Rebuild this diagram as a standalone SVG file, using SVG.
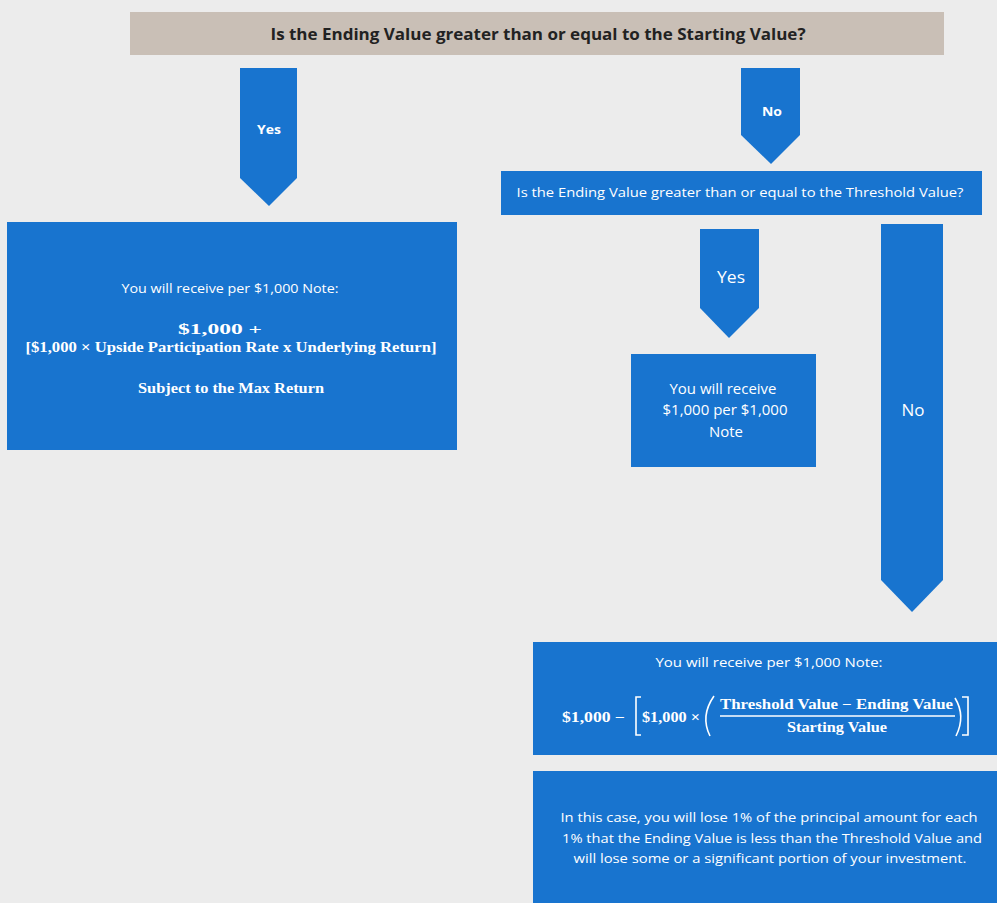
<svg xmlns="http://www.w3.org/2000/svg" width="997" height="903" viewBox="0 0 997 903">
<style>
.bg{fill:#ececec}
.blue{fill:#1874cf}
.tan{fill:#c9bfb6}
.s{font-family:"Open Sans","Liberation Sans",sans-serif;fill:#fff;text-anchor:middle}
.sb{font-family:"Open Sans","Liberation Sans",sans-serif;fill:#fff;text-anchor:middle;font-weight:bold}
.m{font-family:"Liberation Serif","DejaVu Serif",serif;fill:#fff;font-weight:bold}
</style>
<rect class="bg" x="0" y="0" width="997" height="903"/>
<g id="q1">
<rect class="tan" x="130" y="12" width="814" height="43"/>
<text x="538" y="39.5" font-size="16.5" font-weight="bold" fill="#222" text-anchor="middle" font-family="Open Sans, Liberation Sans, sans-serif" textLength="535" lengthAdjust="spacingAndGlyphs">Is the Ending Value greater than or equal to the Starting Value?</text>
</g>
<g id="connectors">
<g id="yes1"><polygon class="blue" points="240,68 297,68 297,178 269,206 240,178"/><text class="sb" x="269" y="134" font-size="12.5" textLength="24" lengthAdjust="spacingAndGlyphs">Yes</text></g>
<g id="no1"><polygon class="blue" points="741,68 800,68 800,135 771,164 741,135"/><text class="sb" x="772" y="116" font-size="12.5" textLength="20" lengthAdjust="spacingAndGlyphs">No</text></g>
<g id="yes2"><polygon class="blue" points="700,229 759,229 759,308 729,338 700,308"/><text class="s" x="731" y="283" font-size="16" textLength="28" lengthAdjust="spacingAndGlyphs">Yes</text></g>
<g id="no2"><polygon class="blue" points="881,224 943,224 943,580 912,612 881,580"/><text class="s" x="913" y="416" font-size="16" textLength="23" lengthAdjust="spacingAndGlyphs">No</text></g>
</g>
<g id="q2">
<rect class="blue" x="501" y="171" width="481" height="44"/>
<text class="s" x="740" y="197" font-size="13.5" textLength="447" lengthAdjust="spacingAndGlyphs">Is the Ending Value greater than or equal to the Threshold Value?</text>
</g>
<g id="up">
<rect class="blue" x="7" y="222" width="450" height="228"/>
<text class="s" x="230" y="293" font-size="13.5" textLength="217" lengthAdjust="spacingAndGlyphs">You will receive per $1,000 Note:</text>
<text class="m" x="220" y="334" font-size="14" text-anchor="middle" textLength="84" lengthAdjust="spacingAndGlyphs">$1,000 +</text>
<text class="m" x="231" y="352" font-size="14" text-anchor="middle" textLength="411" lengthAdjust="spacingAndGlyphs">[$1,000 × Upside Participation Rate x Underlying Return]</text>
<text class="m" x="231" y="393" font-size="14" text-anchor="middle" textLength="186" lengthAdjust="spacingAndGlyphs">Subject to the Max Return</text>
</g>
<g id="par">
<rect class="blue" x="631" y="354" width="185" height="113"/>
<text class="s" x="723" y="394" font-size="14" textLength="107" lengthAdjust="spacingAndGlyphs">You will receive</text>
<text class="s" x="725" y="415" font-size="14" textLength="125" lengthAdjust="spacingAndGlyphs">$1,000 per $1,000</text>
<text class="s" x="726" y="437" font-size="14" textLength="34" lengthAdjust="spacingAndGlyphs">Note</text>
</g>
<g id="down">
<rect class="blue" x="533" y="642" width="464" height="113"/>
<text class="s" x="769" y="667" font-size="13.5" textLength="227" lengthAdjust="spacingAndGlyphs">You will receive per $1,000 Note:</text>
<text class="m" x="562" y="722" font-size="14" textLength="63" lengthAdjust="spacingAndGlyphs">$1,000 −</text>
<path d="M641,697 H636 V735 H641" fill="none" stroke="#fff" stroke-width="1.6"/>
<text class="m" x="642" y="722" font-size="14" textLength="58" lengthAdjust="spacingAndGlyphs">$1,000 ×</text>
<path d="M714,696 Q700,716 710,736" fill="none" stroke="#fff" stroke-width="1.6"/>
<text class="m" x="720" y="709" font-size="14" textLength="233" lengthAdjust="spacingAndGlyphs">Threshold Value  − Ending Value</text>
<line x1="720" y1="716" x2="955" y2="716" stroke="#fff" stroke-width="1.3"/>
<text class="m" x="787" y="732" font-size="14" textLength="100" lengthAdjust="spacingAndGlyphs">Starting Value</text>
<path d="M955,698 Q966,716 956,736" fill="none" stroke="#fff" stroke-width="1.6"/>
<path d="M962,697 H968 V735 H962" fill="none" stroke="#fff" stroke-width="1.6"/>
</g>
<g id="loss">
<rect class="blue" x="533" y="771" width="464" height="132"/>
<text class="s" x="769" y="822" font-size="13.5" textLength="417" lengthAdjust="spacingAndGlyphs">In this case, you will lose 1% of the principal amount for each</text>
<text class="s" x="772" y="843" font-size="13.5" textLength="420" lengthAdjust="spacingAndGlyphs">1% that the Ending Value is less than the Threshold Value and</text>
<text class="s" x="770" y="863" font-size="13.5" textLength="393" lengthAdjust="spacingAndGlyphs">will lose some or a significant portion of your investment.</text>
</g>
</svg>
